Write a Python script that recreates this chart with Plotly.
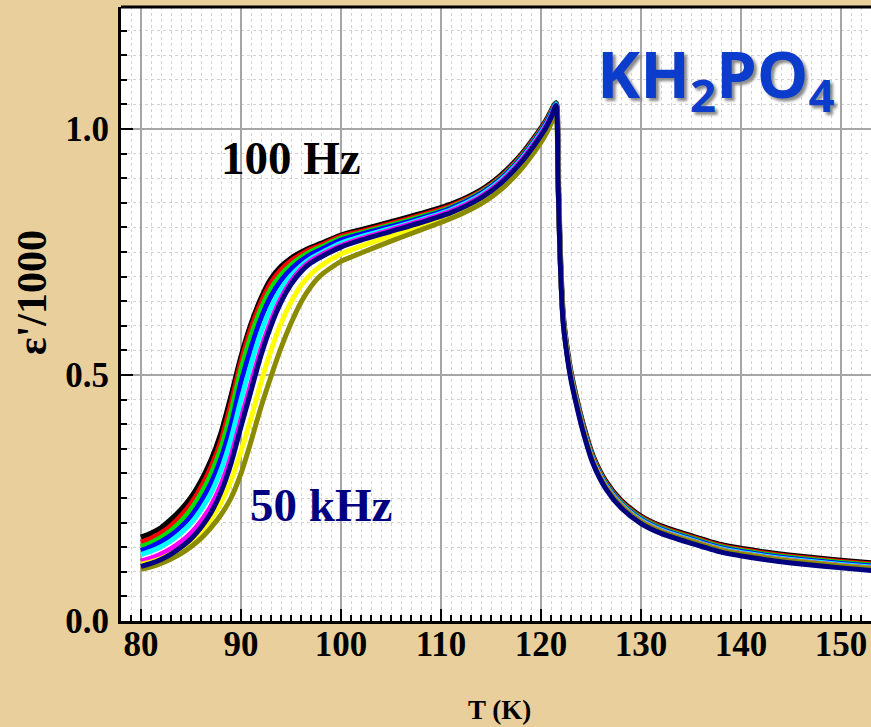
import plotly.graph_objects as go

# temperature grid (K)
T = [80, 81, 82, 83, 84, 85, 86, 87, 88, 89, 90, 91, 92, 93, 94, 95, 96, 97, 98,
     100, 102, 105, 108, 111, 114, 116, 118, 119.5, 120.5, 121.1, 121.5,
     121.7, 121.9, 122.2, 122.6, 123.0, 123.5, 124.2, 125.2, 126.5, 128,
     130, 132, 135, 138, 142, 146, 150, 154]

# eps'/1000, one list per frequency curve
eps_black = [.170, .178, .189, .206, .226, .251, .284, .326, .381, .456, .536, .603, .655, .695, .720, .737, .749, .759, .767,
             .784, .795, .811, .828, .847, .876, .906, .947, .987, 1.017, 1.040, 1.053,
             .915, .760, .624, .554, .504, .457, .400, .335, .283, .245,
             .213, .193, .173, .155, .141, .131, .123, .116]
eps_red = [.160, .168, .179, .194, .214, .239, .272, .313, .367, .443, .527, .595, .648, .688, .714, .732, .745, .756, .764,
           .782, .792, .808, .825, .844, .873, .903, .945, .985, 1.015, 1.039, 1.052,
           .914, .759, .623, .553, .503, .456, .398, .333, .281, .243,
           .211, .191, .171, .153, .139, .129, .121, .114]
eps_green = [.151, .159, .170, .184, .203, .227, .259, .299, .352, .425, .512, .580, .635, .676, .704, .724, .739, .751, .760,
             .778, .789, .805, .822, .841, .871, .901, .943, .983, 1.013, 1.037, 1.052,
             .912, .757, .621, .551, .501, .454, .396, .331, .279, .241,
             .209, .189, .169, .151, .137, .127, .119, .112]
eps_blue = [.143, .151, .161, .174, .191, .213, .243, .280, .330, .398, .485, .555, .615, .660, .692, .715, .732, .745, .755,
            .774, .786, .802, .819, .839, .869, .899, .941, .981, 1.011, 1.035, 1.051,
            .910, .755, .619, .549, .499, .452, .394, .329, .277, .239,
            .207, .187, .167, .149, .135, .125, .117, .110]
eps_cyan = [.135, .142, .151, .163, .179, .199, .226, .260, .307, .370, .450, .522, .587, .637, .675, .702, .722, .737, .748,
            .768, .781, .798, .816, .836, .866, .896, .938, .978, 1.008, 1.032, 1.050,
            .908, .753, .617, .547, .497, .450, .392, .327, .275, .237,
            .205, .185, .165, .147, .133, .123, .115, .108]
eps_magenta = [.122, .128, .136, .147, .161, .179, .203, .234, .277, .335, .410, .483, .553, .610, .656, .690, .715, .732, .744,
               .763, .777, .795, .813, .833, .863, .893, .935, .975, 1.006, 1.030, 1.048,
               .906, .751, .615, .545, .495, .448, .390, .325, .273, .235,
               .203, .183, .163, .145, .131, .121, .113, .106]
eps_yellow = [.115, .120, .127, .136, .148, .163, .182, .207, .240, .285, .345, .412, .485, .550, .605, .648, .682, .705, .722,
              .746, .762, .783, .803, .824, .854, .884, .925, .965, .997, 1.022, 1.042,
              .905, .750, .614, .544, .494, .447, .389, .324, .272, .234,
              .202, .182, .162, .144, .130, .120, .112, .105]
eps_olive = [.105, .110, .117, .126, .137, .151, .168, .190, .216, .250, .300, .365, .435, .497, .555, .605, .648, .680, .703,
             .731, .748, .772, .795, .818, .848, .877, .918, .958, .990, 1.015, 1.035,
             .905, .750, .614, .544, .494, .447, .389, .324, .272, .234,
             .202, .182, .162, .144, .130, .120, .112, .105]
eps_navy = [.111, .117, .125, .136, .150, .167, .190, .220, .262, .320, .395, .468, .540, .600, .648, .684, .710, .728, .740,
            .760, .774, .792, .810, .830, .860, .890, .932, .972, 1.003, 1.028, 1.048,
            .900, .745, .610, .540, .490, .443, .385, .320, .268, .230,
            .198, .178, .158, .140, .126, .116, .108, .101]

curves = [
    (eps_black, 'black', 5.5),
    (eps_red, '#ff0000', 5),
    (eps_green, '#00e000', 5),
    (eps_blue, '#0000ff', 5),
    (eps_cyan, '#00ffff', 5),
    (eps_magenta, '#ff00ff', 5),
    (eps_yellow, '#ffff00', 5),
    (eps_olive, '#8b8b00', 5),
    (eps_navy, '#000080', 5),
]

serif = 'Liberation Serif'

fig = go.Figure()
for vals, col, w in curves:
    fig.add_trace(go.Scatter(
        x=T, y=vals, mode='lines',
        line=dict(color=col, width=w, shape='spline', smoothing=0.7),
        showlegend=False, hoverinfo='skip'))

axis_common = dict(
    automargin=False,
    showline=True, linecolor='black', linewidth=3,
    ticks='inside', ticklen=12, tickwidth=2, tickcolor='black',
    showgrid=True, gridcolor='#a6a6a6', gridwidth=1.5,
    zeroline=False,
    tickfont=dict(family=serif, size=35, color='black', weight='bold'),
)

fig.update_xaxes(
    range=[78, 153], tick0=80, dtick=10,
    minor=dict(dtick=1, ticks='inside', ticklen=6, tickwidth=2, tickcolor='black',
               showgrid=True, gridcolor='#d2d2d2', griddash='dot', gridwidth=1),
    ticklabelstandoff=-10,
    **axis_common)
fig.update_yaxes(
    range=[0, 1.248], tick0=0, dtick=0.5, tickformat='.1f',
    minor=dict(dtick=0.05, ticks='inside', ticklen=6, tickwidth=2, tickcolor='black',
               showgrid=True, gridcolor='#d2d2d2', griddash='dot', gridwidth=1),
    ticklabelstandoff=2,
    **axis_common)

# top frame line (right side is cut off in the original)
fig.add_shape(type='line', xref='paper', yref='paper', x0=0, x1=1, y0=1, y1=1,
              line=dict(color='black', width=3))

fig.add_annotation(text='T (K)', xref='paper', yref='paper', x=0.505, y=-0.145,
                   yanchor='middle', showarrow=False,
                   font=dict(family=serif, size=27, color='black', weight='bold'))
fig.add_annotation(text="ε'/1000", xref='paper', yref='paper', x=-0.119, y=0.535,
                   xanchor='center', textangle=-90, showarrow=False,
                   font=dict(family=serif, size=42, color='black', weight='bold'))
fig.add_annotation(text='100 Hz', x=95.0, y=0.941, showarrow=False,
                   font=dict(family=serif, size=47, color='black', weight='bold'))
fig.add_annotation(text='50 kHz', x=98.0, y=0.236, showarrow=False,
                   font=dict(family=serif, size=47, color='#000080', weight='bold'))
fig.add_annotation(text='KH<sub>2</sub>PO<sub>4</sub>', x=137.5, y=1.105, showarrow=False,
                   font=dict(family='Open Sans', size=65, color='#0b3ccc', weight='bold',
                             shadow='3px 3px 3px #8a8a8a'))

fig.update_layout(
    width=871, height=727,
    margin=dict(l=121, r=0, t=7, b=106, autoexpand=False),
    paper_bgcolor='#e8cf9b', plot_bgcolor='white',
)

fig.write_html('out.html', config={'displayModeBar': False},
               post_script="document.body.style.margin='0';document.body.style.overflow='hidden';")
